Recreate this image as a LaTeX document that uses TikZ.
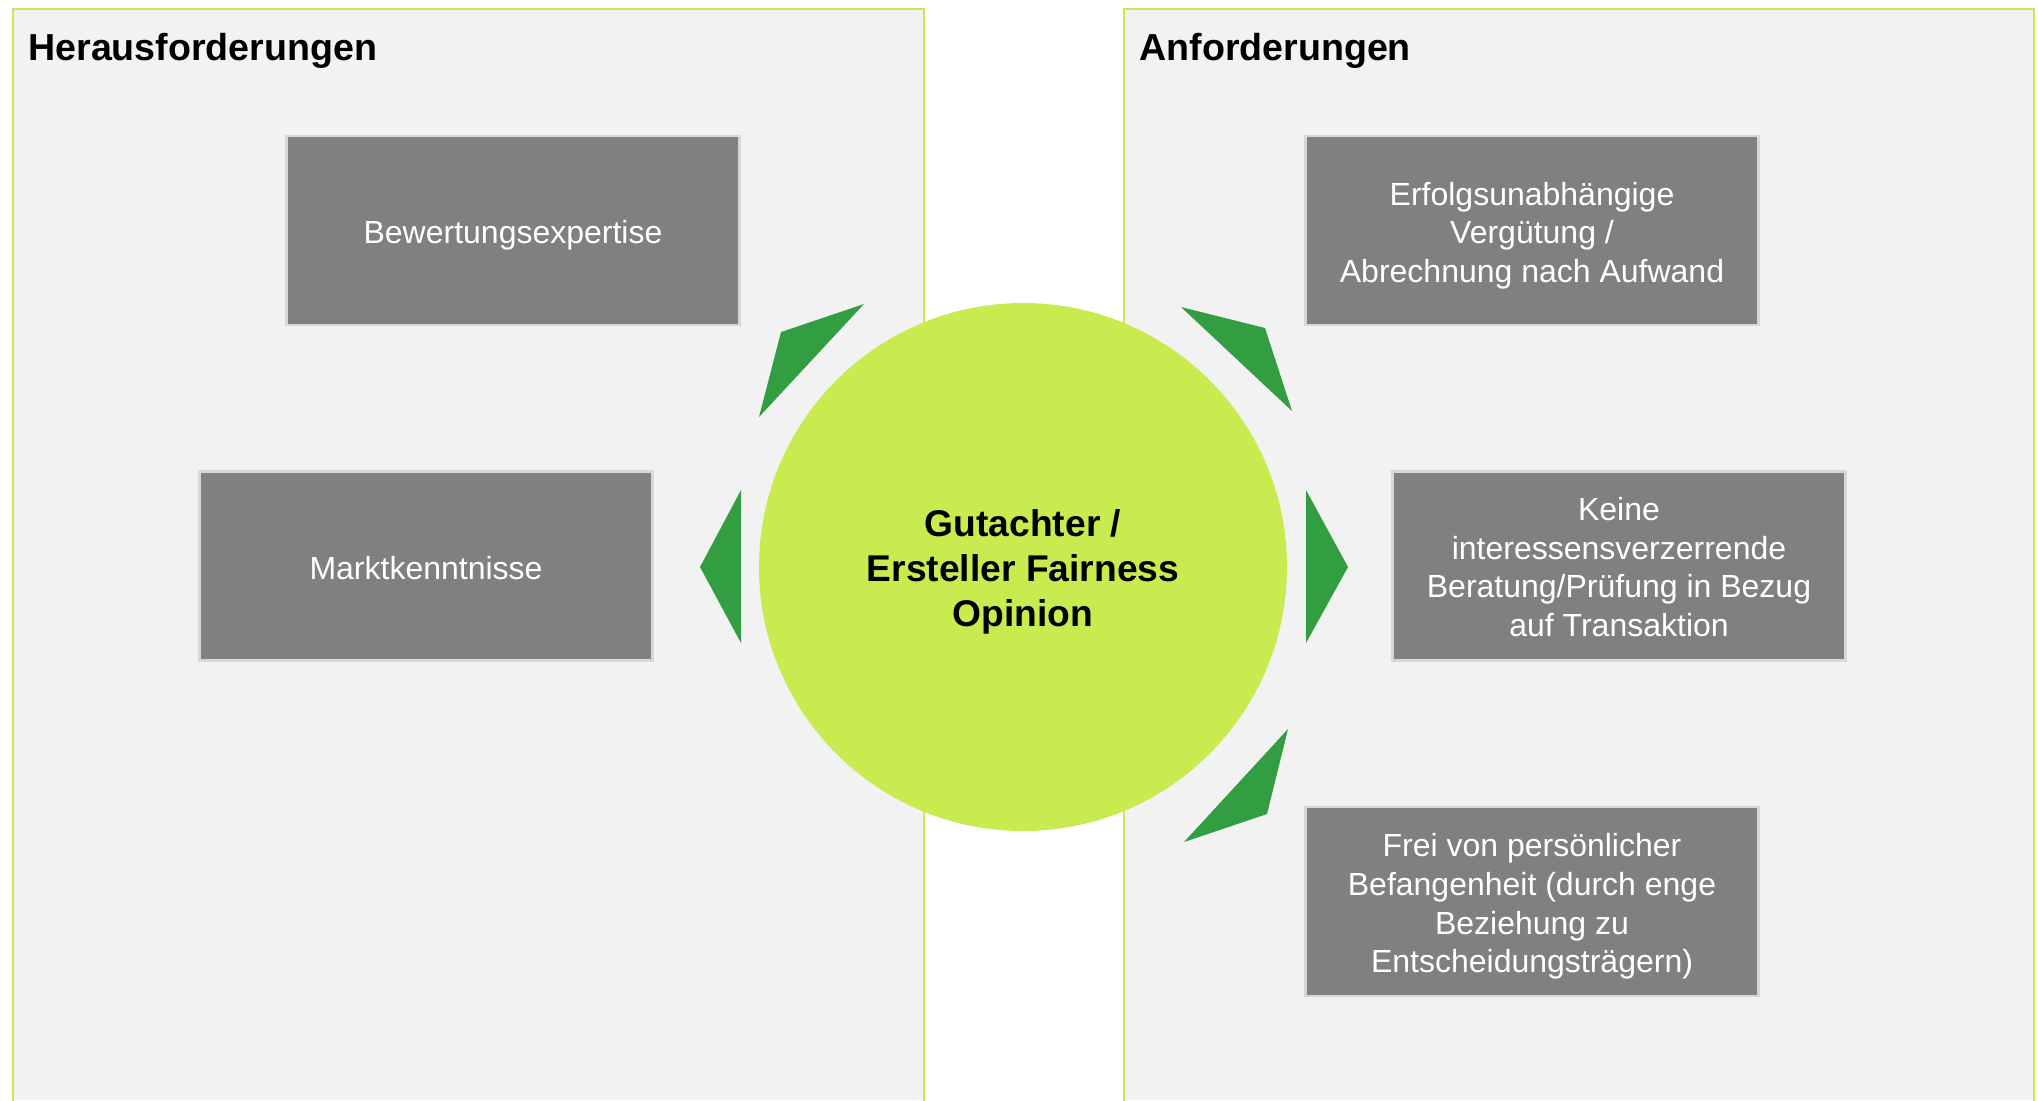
\documentclass[tikz,border=0pt]{standalone}
\usepackage{fontspec}
\setmainfont{Liberation Sans}
\definecolor{panelbg}{RGB}{242,242,242}
\definecolor{limefill}{RGB}{200,235,80}
\definecolor{limeborder}{RGB}{200,232,90}
\definecolor{arrowgreen}{RGB}{51,158,65}
\definecolor{boxgray}{RGB}{128,128,128}
\definecolor{boxborder}{RGB}{215,215,215}
\begin{document}
\begin{tikzpicture}[x=0.5pt,y=-0.5pt,
  panelfill/.style={fill=panelbg},
  panelline/.style={draw=limeborder, line width=1pt},
  title/.style={anchor=base west, font=\bfseries\fontsize{18.8}{22}\selectfont, inner sep=0pt},
  graybox/.style={draw=boxborder, line width=1.2pt, fill=boxgray,
    minimum width=226.5pt, minimum height=94.5pt, inner sep=0pt},
  boxtext/.style={text=white, inner sep=0pt, align=center,
    font=\fontsize{16}{19.3}\selectfont},
  hub/.style={circle, fill=limefill, minimum size=264pt, inner sep=0pt},
  hubtext/.style={inner sep=0pt, align=center,
    font=\bfseries\fontsize{18.6}{22.5}\selectfont},
  chevron/.style={fill=arrowgreen}]
\useasboundingbox (0,0) rectangle (2038,1100);
% panels
\fill[panelfill] (13,9) rectangle (924,1100);
\draw[panelline] (13,1101) -- (13,9) -- (924,9) -- (924,1101);
\fill[panelfill] (1124,9) rectangle (2034,1100);
\draw[panelline] (1124,1101) -- (1124,9) -- (2034,9) -- (2034,1101);
% titles
\node[title] (tl) at (28,60) {Herausforderungen};
\node[title] (tr) at (1139,60) {Anforderungen};
% boxes
\node[graybox] (bew) at (513,230.5) {};
\node[boxtext] (bewt) at ([yshift=-2.5pt]bew.center) {Bewertungsexpertise};
\node[graybox] (markt) at (426,566) {};
\node[boxtext] (marktt) at ([yshift=-1pt]markt.center) {Marktkenntnisse};
\node[graybox] (erf) at (1532,230.5) {};
\node[boxtext] (erft) at ([yshift=-2.5pt]erf.center) {Erfolgsunabhängige\\Vergütung /\\Abrechnung nach Aufwand};
\node[graybox] (keine) at (1619,566) {};
\node[boxtext] (keinet) at ([yshift=-0.5pt]keine.center) {Keine\\interessensverzerrende\\Beratung/Prüfung in Bezug\\auf Transaktion};
\node[graybox] (frei) at (1532,901.5) {};
\node[boxtext] (freit) at ([yshift=-2.5pt]frei.center) {Frei von persönlicher\\Befangenheit (durch enge\\Beziehung zu\\Entscheidungsträgern)};
% hub
\node[hub] (hub) at (1023,567) {};
\node[hubtext] (hubt) at ([yshift=-2.5pt]hub.center) {Gutachter /\\Ersteller Fairness\\Opinion};
% chevrons
\fill[chevron] (864,304) -- (781,332) -- (759,417) -- cycle;
\fill[chevron] (741,490) -- (700,567) -- (741,643) -- cycle;
\fill[chevron] (1181,307) -- (1265,328) -- (1292,411) -- cycle;
\fill[chevron] (1306,490) -- (1348,567) -- (1306,643) -- cycle;
\fill[chevron] (1288,729) -- (1267,814) -- (1184,842) -- cycle;
\end{tikzpicture}
\end{document}
